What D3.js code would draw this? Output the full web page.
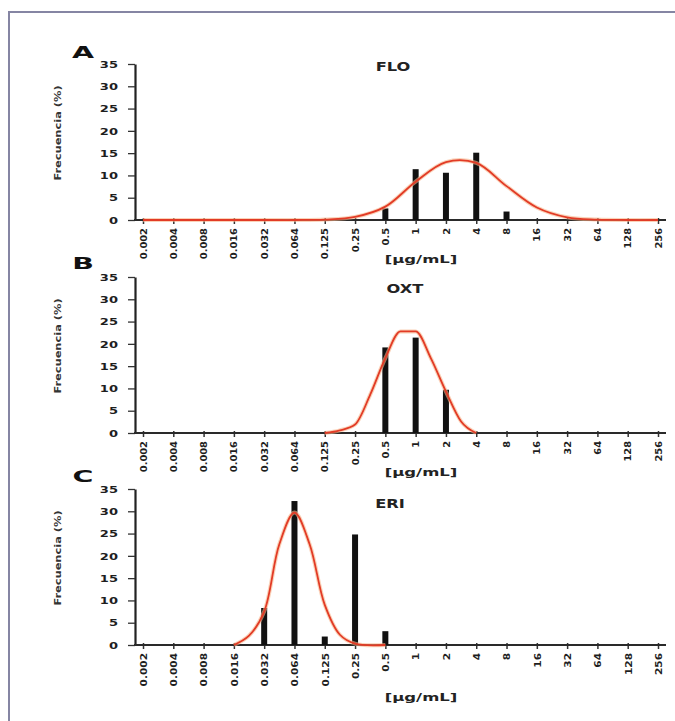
<!DOCTYPE html>
<html lang="es">
<head>
<meta charset="UTF-8">
<title>Frecuencia CMI</title>
<style>
    body{margin:0;background:#fff;}
    svg{display:block;}
    text{
        font-family:"DejaVu Sans",Arial,sans-serif;
        font-weight:bold;
        fill:#1e1e1e;
    }
</style>
<script src="https://cdn.jsdelivr.net/npm/d3@7"></script>
</head>
<body>
<script>
    // data
    const concentrations = ["0.002","0.004","0.008","0.016","0.032","0.064","0.125","0.25","0.5","1","2","4","8","16","32","64","128","256"]
    const yTicks = [0,5,10,15,20,25,30,35]
    const panelLetters = ["A","B","C"]
    const drugNames = ["FLO","OXT","ERI"]
    const yLabel = "Frecuencia (%)"
    const xLabel = "[µg/mL]"

    // bars: concentration -> frequency (%)
    const floBars = [["0.5",2.6],["1",11.4],["2",10.6],["4",15.1],["8",1.9]]
    const oxtBars = [["0.5",19.2],["1",21.4],["2",9.7]]
    const eriBars = [["0.032",8.3],["0.064",32.3],["0.125",1.9],["0.25",24.8],["0.5",3.1]]

    // fitted curves: position along the dilution axis (0 = 0.002) -> frequency (%)
    const floCurve = [[0,0],[1,0],[2,0],[3,0],[4,0],[5,0],[6,0.1],[7,0.7],[8,3.0],[9,8.6],[10,13.0],[11,12.8],[12,7.6],[13,2.8],[14,0.6],[15,0.1],[16,0],[17,0]]
    const oxtCurve = [[6,0],[6.5,0.6],[7,1.9],[7.5,8.6],[8,16.8],[8.5,22.8],[9,22.8],[9.5,16.8],[10,9.3],[10.5,2.6],[11,0]]
    const eriCurve = [[3,0],[3.5,2.1],[4,7.5],[4.5,22.6],[5,29.7],[5.5,22.6],[6,9.0],[6.5,2.3],[7,0.3],[8,0]]

    const barSets = [floBars,oxtBars,eriBars]
    const curveSets = [floCurve,oxtCurve,eriCurve]
    const curveTypes = [d3.curveCatmullRom, d3.curveMonotoneX, d3.curveCatmullRom]

    const width = 675
    const height = 721
    const svg = d3.select("body").append("svg")
        .attr("width",width).attr("height",height)

    // frame
    svg.append("path")
        .attr("d",`M${width},12H9V${height}`)
        .attr("fill","none")
        .attr("stroke","#8585a3")
        .attr("stroke-width",2)

    const x = d3.scalePoint().domain(concentrations).range([143,658])
    const xi = d3.scaleLinear().domain([0,concentrations.length-1]).range([143,658])

    // where each panel sits
    const layout = [
        {top:64, letter:[83,53], title:[393,66], unit:259, lab:8.6},
        {top:277, letter:[83,264], title:[405,288], unit:472, lab:8.6},
        {top:489, letter:[83,477], title:[390,503], unit:697, lab:9.2}
    ]
    const plotH = 156

    panelLetters.forEach((letter,i)=>{
        const L = layout[i]
        const g = svg.append("g")
        const y = d3.scaleLinear().domain([0,35]).range([L.top+plotH,L.top])
        const base = y(0)

        // letter + title
        g.append("text")
            .attr("transform",`translate(${L.letter[0]},${L.letter[1]}) scale(1.9,1)`)
            .attr("text-anchor","middle").attr("dy","0.36em")
            .style("font-size","15px").style("fill","#111")
            .text(letter)
        g.append("text")
            .attr("transform",`translate(${L.title[0]},${L.title[1]}) scale(1.25,1)`)
            .attr("text-anchor","middle").attr("dy","0.36em")
            .style("font-size","13px").style("fill","#222")
            .text(drugNames[i])

        // y axis
        const yAxis = g.append("g")
            .attr("transform","translate(135,0)")
            .call(d3.axisLeft(y).tickValues(yTicks).tickSize(7).tickSizeOuter(0))
        yAxis.select(".domain").attr("stroke","#222").attr("stroke-width",2.2)
        yAxis.selectAll(".tick line").attr("stroke","#333").attr("stroke-width",1.3)
        yAxis.selectAll(".tick text")
            .attr("x",null)
            .attr("transform","translate(-17,0) scale(1.45,1)")
            .attr("dy","0.36em")
            .style("font-size","9px").style("font-family",null)
            .attr("fill","#333")

        g.append("text")
            .attr("transform",`translate(58,${L.top+69}) rotate(-90) scale(1.2,1)`)
            .attr("text-anchor","middle").attr("dy","0.36em")
            .style("font-size","9.5px").style("fill","#333")
            .text(yLabel)

        // x axis
        const xAxis = g.append("g")
            .attr("transform",`translate(0,${base})`)
            .call(d3.axisBottom(x).tickSize(4).tickSizeOuter(0))
        xAxis.select(".domain").remove()
        xAxis.selectAll(".tick line").attr("stroke","#333").attr("stroke-width",1.5).attr("y1",-2)
        xAxis.selectAll(".tick text")
            .attr("x",null).attr("y",null)
            .attr("transform",`translate(0,8) rotate(-90) scale(1.15,1)`)
            .attr("text-anchor","end").attr("dy","0.36em")
            .style("font-size",L.lab+"px").style("font-family",null)
            .attr("fill","#333")
        g.append("line")
            .attr("x1",134).attr("x2",666)
            .attr("y1",base).attr("y2",base)
            .attr("stroke","#2a2a2a").attr("stroke-width",1.8)

        g.append("text")
            .attr("transform",`translate(421,${L.unit}) scale(1.5,1)`)
            .attr("text-anchor","middle").attr("dy","0.36em")
            .style("font-size","11px").style("fill","#222")
            .text(xLabel)

        // bars
        g.selectAll(".bar").data(barSets[i]).enter()
            .append("rect")
            .attr("x",d=>x(d[0])-3)
            .attr("width",6)
            .attr("y",d=>y(d[1]))
            .attr("height",d=>base-y(d[1]))
            .attr("fill","#111")

        // curve
        const line = d3.line()
            .x(d=>xi(d[0]))
            .y(d=>y(d[1]))
            .curve(curveTypes[i])
        g.append("path")
            .attr("d",line(curveSets[i]))
            .attr("fill","none")
            .attr("stroke","#f6b48a")
            .attr("stroke-width",4)
            .attr("stroke-opacity",0.6)
        g.append("path")
            .attr("d",line(curveSets[i]))
            .attr("fill","none")
            .attr("stroke","#e23b26")
            .attr("stroke-width",1.8)
    })
</script>
</body>
</html>
